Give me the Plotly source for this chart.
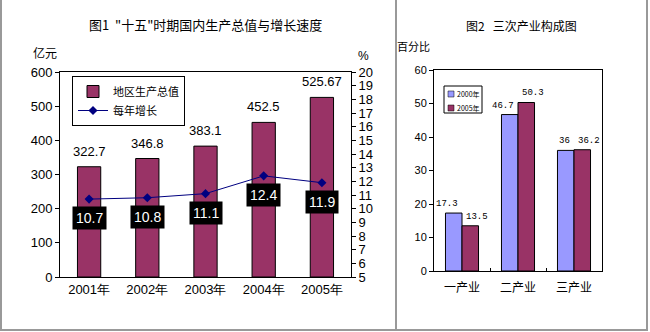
import plotly.graph_objects as go

years = ["2001年", "2002年", "2003年", "2004年", "2005年"]
gdp = [322.7, 346.8, 383.1, 452.5, 525.67]
gdp_labels = ["322.7", "346.8", "383.1", "452.5", "525.67"]
growth = [10.7, 10.8, 11.1, 12.4, 11.9]

industries = ["一产业", "二产业", "三产业"]
share_series = ["2000年", "2005年"]
share2000 = [17.3, 46.7, 36.0]
share2005 = [13.5, 50.3, 36.2]
share2000_labels = ["17.3", "46.7", "36"]
share2005_labels = ["13.5", "50.3", "36.2"]

W, H = 650, 332
CJK = "Noto Sans CJK SC"
NUM = "Liberation Sans"
MONO = "Liberation Mono"
C_BLUE = "#9999FF"
C_MAROON = "#993366"

def px(x):
    return x / W

def py(y):
    return 1 - y / H

fig = go.Figure()

fig.add_trace(go.Bar(
    x=years, y=gdp, name="地区生产总值",
    marker=dict(color=C_MAROON, line=dict(color="black", width=1)),
    width=0.4,
    xaxis="x", yaxis="y", legend="legend",
))
fig.add_trace(go.Scatter(
    x=years, y=growth, name="每年增长", mode="lines+markers",
    line=dict(color="#000080", width=1),
    marker=dict(symbol="diamond", size=7, color="#000080"),
    xaxis="x", yaxis="y2", legend="legend",
))

fig.add_trace(go.Bar(
    x=industries, y=share2000, name=share_series[0],
    marker=dict(color=C_BLUE, line=dict(color="black", width=1)),
    showlegend=False, xaxis="x3", yaxis="y3",
))
fig.add_trace(go.Bar(
    x=industries, y=share2005, name=share_series[1],
    marker=dict(color=C_MAROON, line=dict(color="black", width=1)),
    showlegend=False, xaxis="x3", yaxis="y3",
))

annotations = []
# value labels above the GDP bars
for yr, v, lab in zip(years, gdp, gdp_labels):
    annotations.append(dict(
        x=yr, y=v, xref="x", yref="y", text=lab, showarrow=False,
        xanchor="center", yanchor="bottom", yshift=6,
        font=dict(family=NUM, size=13, color="black"),
    ))
# growth labels in black boxes below the markers
for yr, g in zip(years, growth):
    annotations.append(dict(
        x=yr, y=g, xref="x", yref="y2", text=f"{g:.1f}", showarrow=False,
        xanchor="center", yanchor="middle",
        yshift=-19, bgcolor="black", font=dict(family=NUM, size=14, color="white"),
        borderpad=3,
    ))
# value labels above the structure bars
for vals, labs, anchor, shift in [(share2000, share2000_labels, "right", -2),
                                  (share2005, share2005_labels, "left", 2)]:
    for ind, v, lab in zip(industries, vals, labs):
        annotations.append(dict(
            x=ind, y=v, xref="x3", yref="y3", text=lab, showarrow=False,
            xanchor=anchor, yanchor="bottom", yshift=2, xshift=shift,
            font=dict(family=MONO, size=9, color="black"),
        ))

def paper_text(x, y, text, font, xanchor="center"):
    return dict(x=px(x), y=py(y), xref="paper", yref="paper", showarrow=False,
                xanchor=xanchor, yanchor="middle", text=text, font=font)

annotations += [
    paper_text(205, 24, "图1  \"十五\"时期国内生产总值与增长速度",
               dict(family=CJK, size=13, color="black")),
    paper_text(45, 53, "亿元", dict(family=CJK, size=12, color="black")),
    paper_text(363, 56, "%", dict(family=NUM, size=12, color="black")),
    paper_text(521, 26, "图2   三次产业构成图", dict(family=CJK, size=12, color="black")),
    paper_text(413, 46, "百分比", dict(family=CJK, size=11, color="black")),
]

shapes = [
    dict(type="line", xref="paper", yref="paper", x0=px(1), x1=px(1), y0=py(0), y1=py(330),
         line=dict(color="#999999", width=2)),
    dict(type="line", xref="paper", yref="paper", x0=px(396), x1=px(396), y0=py(0), y1=py(330),
         line=dict(color="#999999", width=2)),
    dict(type="line", xref="paper", yref="paper", x0=px(647), x1=px(647), y0=py(0), y1=py(330),
         line=dict(color="#999999", width=2)),
    dict(type="line", xref="paper", yref="paper", x0=px(0), x1=px(648), y0=py(330), y1=py(330),
         line=dict(color="#999999", width=2)),
]

# small legend box for figure 2
shapes.append(dict(type="rect", xref="paper", yref="paper",
                   x0=px(444), x1=px(482), y0=py(113), y1=py(86),
                   line=dict(color="black", width=1), fillcolor="white", layer="above"))
for i, (name, col) in enumerate(zip(share_series, [C_BLUE, C_MAROON])):
    cy = 94 + 14 * i
    shapes.append(dict(type="rect", xref="paper", yref="paper",
                       x0=px(448), x1=px(454), y0=py(cy + 3), y1=py(cy - 3),
                       line=dict(color="black", width=0.5), fillcolor=col, layer="above"))
    annotations.append(paper_text(455, cy, name, dict(family=CJK, size=7, color="black"),
                                  xanchor="left"))

axis_common = dict(showline=True, linecolor="black", linewidth=1, showgrid=False,
                   zeroline=False, ticks="outside", ticklen=4, tickcolor="black",
                   automargin=False)

fig.update_layout(
    width=W, height=H, margin=dict(l=0, r=0, t=0, b=0, autoexpand=False),
    paper_bgcolor="white", plot_bgcolor="white",
    barmode="group", bargap=0.41, bargroupgap=0.0,
    showlegend=True,
    xaxis=dict(domain=[px(60), px(351)], anchor="y", mirror=True, automargin=False,
               tickfont=dict(family=NUM, size=13, color="black"),
               showline=True, linecolor="black", linewidth=1, ticks="", showgrid=False),
    yaxis=dict(domain=[py(277), py(72)], anchor="x", range=[0, 600], dtick=100,
               tickfont=dict(family=NUM, size=13, color="black"), mirror=False, **axis_common),
    yaxis2=dict(overlaying="y", side="right", anchor="x", range=[5, 20], dtick=1,
                tickfont=dict(family=NUM, size=13, color="black"), **axis_common),
    xaxis3=dict(domain=[px(434), px(602)], anchor="y3", mirror=True, automargin=False,
                tickfont=dict(family=CJK, size=12, color="black"), ticklabelstandoff=6,
                showline=True, linecolor="black", linewidth=1, showgrid=False,
                ticks="inside", tickson="boundaries", ticklen=3, tickcolor="black"),
    yaxis3=dict(domain=[py(271), py(70)], anchor="x3", range=[0, 60], dtick=10, mirror=True,
                tickfont=dict(family=NUM, size=11, color="black"), **axis_common),
    legend=dict(x=px(72), y=py(76), xanchor="left", yanchor="top",
                bordercolor="black", borderwidth=1, bgcolor="white",
                font=dict(family=CJK, size=11, color="black"),
                tracegroupgap=2, itemwidth=30),
    annotations=annotations,
    shapes=shapes,
)

fig.write_html("out.html")
